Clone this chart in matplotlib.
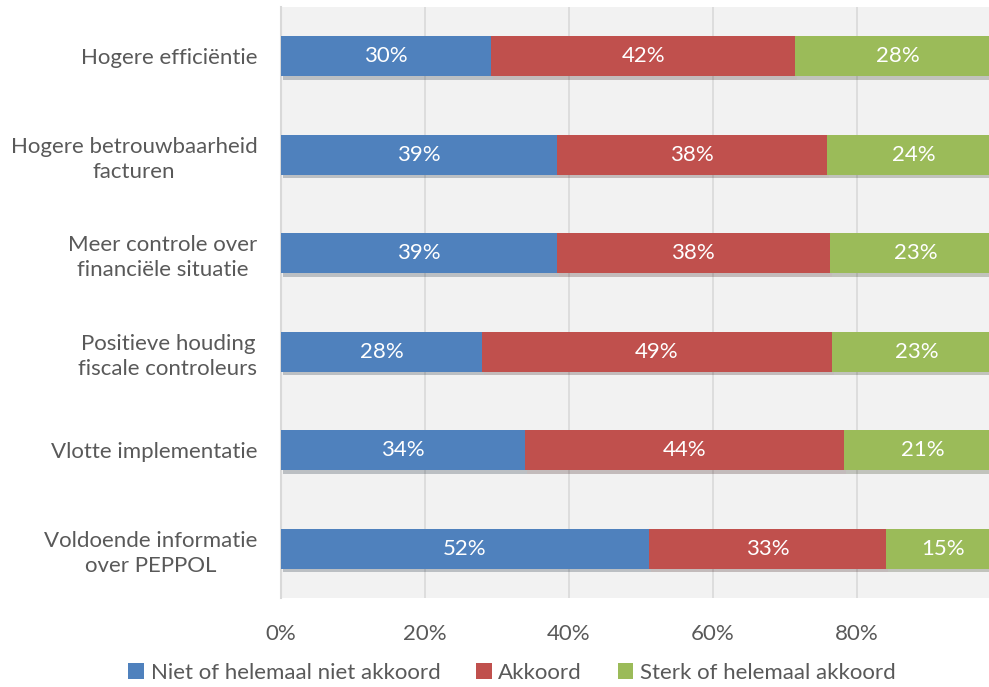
import matplotlib.pyplot as plt
import matplotlib.patheffects as pe
import numpy as np

plt.rcParams['font.family'] = ['Lato', 'DejaVu Sans']

categories = [
    "Hogere efficiëntie",
    "Hogere betrouwbaarheid\nfacturen",
    "Meer controle over\nfinanciële situatie",
    "Positieve houding\nfiscale controleurs",
    "Vlotte implementatie",
    "Voldoende informatie\nover PEPPOL",
]
series_names = ["Niet of helemaal niet akkoord", "Akkoord", "Sterk of helemaal akkoord"]
niet_akkoord = [29.2, 38.3, 38.3, 27.9, 33.9, 51.1]
akkoord = [42.2, 37.5, 37.9, 48.6, 44.3, 32.9]
sterk_akkoord = [28.6, 24.2, 23.8, 23.5, 21.8, 16.0]
labels_niet = ["30%", "39%", "39%", "28%", "34%", "52%"]
labels_akkoord = ["42%", "38%", "38%", "49%", "44%", "33%"]
labels_sterk = ["28%", "24%", "23%", "23%", "21%", "15%"]

colors = ["#4F81BD", "#C0504D", "#9BBB59"]
text_grey = "#595959"
fs = 16

fig = plt.figure(figsize=(9.89, 6.87), dpi=100)
# axes extends past the right edge, the original picture is cropped there
ax = fig.add_axes([281 / 989, 1 - 598 / 687, 720 / 989, 591 / 687])
ax.set_facecolor("#F2F2F2")

y = np.arange(len(categories))
shadow = [pe.SimplePatchShadow(offset=(1.5, -2.5), alpha=0.25), pe.Normal()]
left = np.zeros(len(categories))
for vals, labs, col, name in zip([niet_akkoord, akkoord, sterk_akkoord],
                                 [labels_niet, labels_akkoord, labels_sterk],
                                 colors, series_names):
    bars = ax.barh(y, vals, left=left, height=0.41, color=col, label=name,
                   zorder=3, path_effects=shadow)
    for b, lab in zip(bars, labs):
        ax.text(b.get_x() + b.get_width() / 2, b.get_y() + b.get_height() / 2, lab,
                ha="center", va="center", color="white", fontsize=fs, zorder=4)
    left += np.array(vals)

ax.set_xlim(0, 100)
ax.set_ylim(len(categories) - 0.5, -0.5)
ax.set_xticks([0, 20, 40, 60, 80])
ax.set_xticklabels(["0%", "20%", "40%", "60%", "80%"])
ax.set_yticks(y)
ax.set_yticklabels(categories, ha="right")
ax.tick_params(axis="both", length=0, colors=text_grey, labelsize=fs)
ax.tick_params(axis="x", pad=19)
ax.tick_params(axis="y", pad=17)
for lab in ax.get_yticklabels():
    lab.set_multialignment("center")
    lab.set_linespacing(1.3)
ax.grid(axis="x", color="#D9D9D9", linewidth=1.2, zorder=0)
for s in ["top", "right", "bottom"]:
    ax.spines[s].set_visible(False)
ax.spines["left"].set_color("#D9D9D9")
ax.spines["left"].set_linewidth(1.5)

leg = fig.legend(loc="center", bbox_to_anchor=(512 / 989, 1 - 673 / 687), ncol=3, frameon=False,
                 fontsize=fs, labelcolor=text_grey, handlelength=0.7, handleheight=0.7,
                 handletextpad=0.3, columnspacing=1.6)
for h in leg.legend_handles:
    h.set_path_effects([])

fig.savefig("out.png", dpi=100)
